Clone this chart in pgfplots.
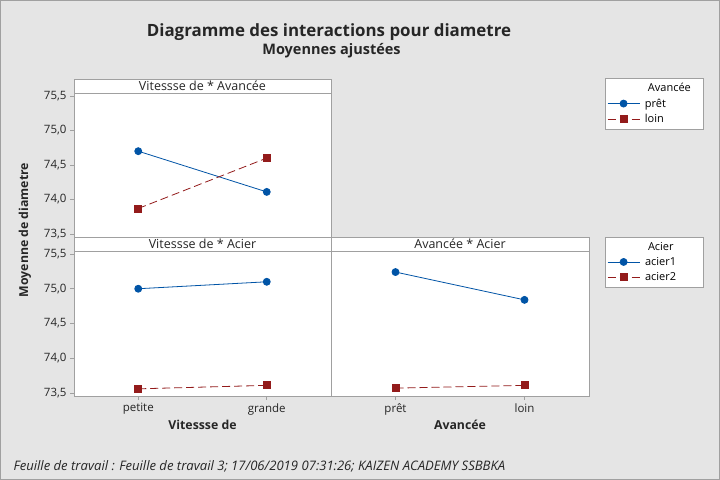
\documentclass[border=0pt]{standalone}
\usepackage{fontspec}
\setmainfont{Open Sans}
\usepackage{pgfplots}
\pgfplotsset{compat=1.18}
\definecolor{bg}{HTML}{E5E5E5}
\definecolor{frame}{HTML}{A0A0A0}
\definecolor{mblue}{HTML}{0054A6}
\definecolor{mred}{HTML}{931B1B}
\newcommand{\tf}{\fontsize{11.5bp}{13bp}\selectfont}
\newcommand{\lf}{\fontsize{11bp}{12bp}\selectfont}
\pgfplotsset{
  panel/.style={
    scale only axis, height=145bp, anchor=south west,
    xmin=0.5, xmax=2.5, ymin=73.457, ymax=75.543,
    axis background/.style={fill=white},
    axis line style={frame},
    ytick={73.5,74,74.5,75,75.5},
    yticklabel style={/pgf/number format/.cd, use comma, fixed, fixed zerofill, precision=1, assume math mode=true},
    tick label style={font=\tf, text=black!85},
    tick style={frame, line width=0.6bp},
    tick align=outside, major tick length=4bp,
    ytick pos=left, xtick pos=bottom,
    x label style={at={(axis description cs:0.5,-0.2)}, anchor=center, font=\fontsize{12.3bp}{14bp}\selectfont\bfseries, text=black!85},
    legend cell align=left,
    legend style={draw=frame, fill=white, font=\lf, anchor=north west, inner xsep=2bp, inner ysep=3bp, row sep=1.5bp,
      /tikz/every odd column/.append style={column sep=3bp}},
    legend image code/.code={\draw[mark repeat=2,mark phase=2] plot coordinates {(0bp,0bp) (16bp,0bp) (32bp,0bp)};},
  },
  pa/.style={mblue, line width=0.8bp, mark=*, mark size=3.5bp, mark options={solid, fill=mblue}},
  pb/.style={mred, line width=0.8bp, dash pattern=on 8bp off 4bp, mark=square*, mark size=3.5bp, mark options={solid, fill=mred}},
}
\begin{document}
\begin{tikzpicture}[x=1bp,y=1bp]
\fill[bg] (0,0) rectangle (720,480);
\draw[frame] (0.5,0.5) rectangle (719.5,479.5);

% top-left panel
\begin{axis}[panel, at={(74bp,243bp)}, width=257bp, height=144bp, xtick=\empty,
  legend style={at={(2.066,1.104)}}]
\addlegendimage{empty legend}\addlegendentry{\hspace*{3bp}Avancée}
\addplot[pa] coordinates {(1,74.70) (2,74.11)}; \addlegendentry{\makebox[54bp][l]{prêt}}
\addplot[pb] coordinates {(1,73.87) (2,74.60)}; \addlegendentry{loin}
\end{axis}

% bottom-left panel
\begin{axis}[panel, at={(74bp,84bp)}, width=257bp, xtick={1,2}, xticklabels={petite,grande}, xlabel={Vitessse de}]
\addplot[pa] coordinates {(1,75.00) (2,75.10)};
\addplot[pb] coordinates {(1,73.56) (2,73.61)};
\end{axis}

% bottom-right panel
\begin{axis}[panel, at={(331bp,84bp)}, width=258bp, xtick={1,2}, xticklabels={prêt,loin}, ytick=\empty, xlabel={Avancée},
  legend style={at={(1.062,1.097)}}]
\addlegendimage{empty legend}\addlegendentry{\hspace*{3bp}Acier}
\addplot[pa] coordinates {(1,75.24) (2,74.84)}; \addlegendentry{\makebox[54bp][l]{acier1}}
\addplot[pb] coordinates {(1,73.57) (2,73.61)}; \addlegendentry{acier2}
\end{axis}

% panel title bands
\draw[frame, fill=white] (74,387) rectangle (331,401);
\node[font=\fontsize{12.5bp}{13bp}\selectfont, text=black!85] at (202.5,394) {Vitessse de * Avancée};
\draw[frame, fill=white] (74,229) rectangle (331,243);
\node[font=\fontsize{12.5bp}{13bp}\selectfont, text=black!85] at (202.5,236) {Vitessse de * Acier};
\draw[frame, fill=white] (331,229) rectangle (589,243);
\node[font=\fontsize{12.5bp}{13bp}\selectfont, text=black!85] at (460,236) {Avancée * Acier};

% y label
\node[rotate=90, font=\fontsize{12.3bp}{14bp}\selectfont\bfseries, text=black!85] at (25,250) {Moyenne de diametre};

% titles
\node[font=\fontsize{16.9bp}{18bp}\selectfont\bfseries, text=black!85] at (329,448) {Diagramme des interactions pour diametre};
\node[font=\fontsize{14.5bp}{16bp}\selectfont\bfseries, text=black!85] at (331.5,429) {Moyennes ajustées};

% footer
\node[anchor=west, font=\fontsize{13.1bp}{15bp}\selectfont\itshape, text=black!85] at (10,14) {Feuille de travail : Feuille de travail 3; 17/06/2019 07:31:26; KAIZEN ACADEMY SSBBKA};
\end{tikzpicture}
\end{document}
